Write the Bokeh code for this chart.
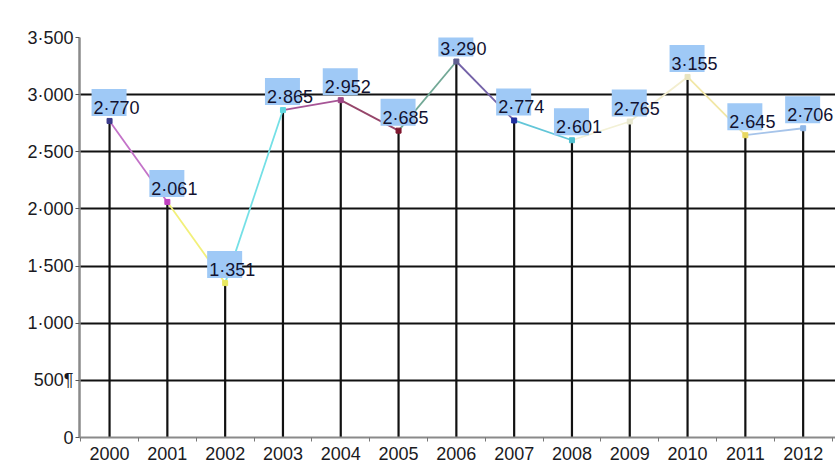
from bokeh.plotting import figure
from bokeh.models import FixedTicker, ColumnDataSource
from bokeh.core.properties import value
from bokeh.embed import file_html
from bokeh.resources import INLINE

years = [2000, 2001, 2002, 2003, 2004, 2005, 2006, 2007, 2008, 2009, 2010, 2011, 2012]
values = [2770, 2061, 1351, 2865, 2952, 2685, 3290, 2774, 2601, 2765, 3155, 2645, 2706]
value_labels = ["2·770", "2·061", "1·351", "2·865", "2·952", "2·685", "3·290",
                "2·774", "2·601", "2·765", "3·155", "2·645", "2·706"]
y_ticks = [0, 500, 1000, 1500, 2000, 2500, 3000, 3500]
y_tick_labels = ["0", "500¶", "1·000", "1·500", "2·000", "2·500", "3·000", "3·500"]

segment_colors = ["#c372c8", "#f2f07a", "#74e0e6", "#a65596", "#96466a", "#72a896",
                  "#7462a8", "#62c6d8", "#f3f1d6", "#f3eecf", "#f1e7a6", "#a6c4ea"]
marker_colors = ["#3a3a8a", "#c040c0", "#e8e860", "#60d8e0", "#a04888", "#801830",
                 "#606090", "#2030a0", "#50c0d0", "#e8e8d0", "#e8e4c0", "#e8d860", "#90b8e8"]

W, H = 835, 462
BL, BR, BT, BB = 79, 0, 37, 25
x0 = 1999.48
ppy = 57.8
x1 = x0 + (W - BL - BR) / ppy
upp = 3500 / (H - BT - BB)

FONT = "Liberation Sans"

p = figure(width=W, height=H, output_backend="svg", toolbar_location=None,
           x_range=(x0, x1), y_range=(0, 3500),
           min_border_left=BL, min_border_right=BR, min_border_top=BT, min_border_bottom=BB)
p.background_fill_color = "white"
p.border_fill_color = "white"
p.outline_line_color = None

# grid
p.xgrid.grid_line_color = None
p.ygrid.ticker = FixedTicker(ticks=y_ticks[1:])
p.ygrid.grid_line_color = "#111111"
p.ygrid.grid_line_width = 1.8

# y axis
p.yaxis.ticker = FixedTicker(ticks=y_ticks)
p.yaxis.major_label_overrides = {t: l for t, l in zip(y_ticks, y_tick_labels)}
p.yaxis.axis_line_color = "#8a8a8a"
p.yaxis.axis_line_width = 2.5
p.yaxis.major_tick_in = 0
p.yaxis.major_tick_out = 4
p.yaxis.major_tick_line_color = "#555555"
p.yaxis.minor_tick_line_color = None
p.yaxis.major_label_text_font = FONT
p.yaxis.major_label_text_font_size = "18px"
p.yaxis.major_label_text_color = "#1a1a22"
p.yaxis.major_label_standoff = 2

# x axis
p.xaxis.ticker = FixedTicker(ticks=years, minor_ticks=[y + 0.5 for y in [years[0] - 1] + years])
p.xaxis.major_label_overrides = {y: str(y) for y in years}
p.xaxis.axis_line_color = "#8a8a8a"
p.xaxis.axis_line_width = 2
p.xaxis.major_tick_line_color = None
p.xaxis.minor_tick_in = 0
p.xaxis.minor_tick_out = 4
p.xaxis.minor_tick_line_color = "#777777"
p.xaxis.major_label_text_font = FONT
p.xaxis.major_label_text_font_size = "18px"
p.xaxis.major_label_text_color = "#1a1a22"
p.xaxis.major_label_standoff = 3

# drop lines
p.segment(x0=years, y0=[0] * len(years), x1=years, y1=values,
          line_color="#111111", line_width=2.2)

# coloured line segments
seg = ColumnDataSource(dict(xs=years[:-1], ys=values[:-1], xe=years[1:], ye=values[1:],
                            c=segment_colors))
p.segment(x0="xs", y0="ys", x1="xe", y1="ye", line_color="c", line_width=1.8, source=seg)

p.scatter(years, values, marker="square", size=5, color=marker_colors)

# label boxes
box_x = [y - 0.5 / ppy for y in years]
box_y = [v + (5 + 13.5) * upp for v in values]
p.rect(x=box_x, y=box_y, width=35 / ppy, height=27 * upp,
       fill_color="#9fc9f6", line_color=None)

p.text(x=years, y=values, text=value_labels, x_offset=-16, y_offset=-13,
       text_align="left", text_baseline="alphabetic",
       text_font=value(FONT), text_font_size="18px", text_color="#121230")

open("out.html", "w").write(file_html(p, INLINE))
